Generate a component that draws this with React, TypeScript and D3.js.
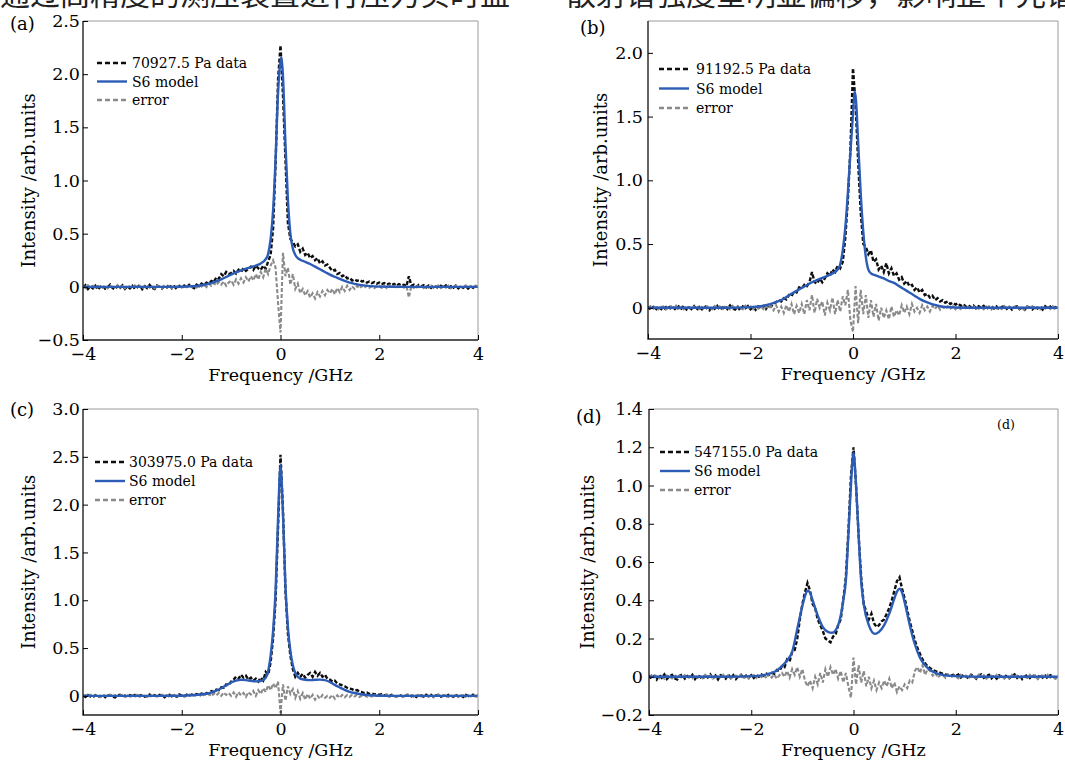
import React, { useEffect, useRef } from 'react';
import * as d3 from 'd3';

const W = 1065;
const H = 760;
const SERIF = '"DejaVu Serif", "Liberation Serif", serif';
const CJK = '"Noto Sans CJK SC", sans-serif';

// sampling grid of the measured spectra, GHz (step 0.05)
const freq = d3.range(161).map((i) => +(-4 + i * 0.05).toFixed(2));

const xTicks = [-4, -2, 0, 2, 4];
const yTicksA = [-0.5, 0, 0.5, 1, 1.5, 2, 2.5];
const yTicksB = [0, 0.5, 1, 1.5, 2];
const yTicksC = [0, 0.5, 1, 1.5, 2, 2.5, 3];
const yTicksD = [-0.2, 0, 0.2, 0.4, 0.6, 0.8, 1.0, 1.2, 1.4];

const pressures = ['70927.5', '91192.5', '303975.0', '547155.0'];

// ---- (a) 70927.5 Pa ----
const dataA = [
  -0.01, 0.015, -0.02, 0.005, -0.015, 0.01, -0.025, 0.0, 0.012, -0.018, -0.005, 0.02, -0.012, -0.022, 0.008, -0.01, 0.014, -0.02, 0.003, -0.015,
  0.01, -0.018, -0.004, 0.016, -0.022, 0.006, -0.012, 0.018, -0.008, -0.02, 0.012, 0.0, -0.016, 0.01, -0.006, 0.022, -0.014, 0.004, -0.02, 0.008,
  -0.01, 0.012, -0.004, 0.018, 0.0, -0.012, 0.02, 0.006, 0.03, 0.015, 0.04, 0.03, 0.055, 0.045, 0.09, 0.075, 0.12, 0.1, 0.14, 0.12,
  0.13, 0.15, 0.125, 0.16, 0.14, 0.175, 0.15, 0.17, 0.19, 0.16, 0.2, 0.175, 0.16, 0.2, 0.17, 0.24, 0.3, 0.55, 1.15, 1.95,
  2.27, 1.8, 1.2, 0.6, 0.45, 0.42, 0.38, 0.4, 0.33, 0.36, 0.3, 0.32, 0.27, 0.29, 0.25, 0.27, 0.22, 0.24, 0.2, 0.21,
  0.18, 0.15, 0.16, 0.12, 0.13, 0.1, 0.11, 0.08, 0.085, 0.06, 0.07, 0.055, 0.065, 0.05, 0.055, 0.04, 0.05, 0.035, 0.045, 0.03,
  0.04, 0.025, 0.035, 0.02, 0.03, 0.015, 0.028, 0.01, 0.025, 0.012, 0.02, 0.005, 0.1, 0.01, 0.02, 0.0, 0.018, 0.005, 0.015, -0.005,
  0.012, -0.01, 0.015, 0.0, -0.012, 0.01, -0.005, 0.014, -0.015, 0.006, -0.008, 0.012, -0.014, 0.004, -0.01, 0.01, -0.016, 0.006, -0.008, 0.01, -0.005,
];
const errorA = [
  0.005, -0.012, 0.015, -0.005, 0.01, -0.018, 0.008, 0.012, -0.01, 0.004, -0.015, 0.01, 0.0, -0.012, 0.016, -0.006, 0.008, -0.014, 0.012, 0.002,
  -0.01, 0.014, -0.006, 0.01, -0.016, 0.004, 0.012, -0.008, 0.006, -0.014, 0.01, 0.002, -0.012, 0.016, -0.004, 0.008, -0.012, 0.01, -0.002, 0.012,
  -0.008, 0.01, -0.004, 0.014, 0.0, 0.012, -0.006, 0.018, 0.004, 0.02, -0.002, 0.03, 0.01, 0.035, 0.015, 0.045, 0.02, 0.05, 0.01, 0.04,
  0.06, 0.02, 0.07, 0.03, 0.08, 0.04, 0.09, 0.05, 0.1, 0.06, 0.12, 0.07, 0.14, 0.09, 0.17, 0.12, 0.2, 0.25, 0.18, -0.15,
  -0.43, 0.32, 0.1, 0.18, 0.02, 0.12, -0.02, 0.03, -0.06, -0.02, -0.08, -0.04, -0.1, -0.06, -0.11, -0.05, -0.09, -0.04, -0.08, -0.03,
  -0.06, -0.02, -0.07, -0.01, -0.05, 0.0, -0.04, 0.01, -0.03, 0.005, -0.02, 0.01, -0.015, 0.008, -0.01, 0.012, -0.008, 0.006, -0.012, 0.004,
  0.01, -0.01, 0.008, -0.012, 0.014, -0.004, 0.01, -0.014, 0.006, 0.012, -0.008, 0.01, -0.1, 0.008, -0.01, 0.014, -0.004, 0.01, -0.012, 0.006,
  -0.008, 0.012, -0.01, 0.006, 0.014, -0.012, 0.004, -0.008, 0.012, -0.014, 0.006, 0.01, -0.01, 0.004, -0.012, 0.014, -0.006, 0.008, -0.01, 0.012, 0.0,
];
const modelA: [number, number][] = [
  [-4, 0], [-2.2, 0], [-1.8, 0.005], [-1.6, 0.015], [-1.4, 0.035], [-1.2, 0.07], [-1.0, 0.115], [-0.8, 0.155],
  [-0.6, 0.185], [-0.5, 0.2], [-0.4, 0.22], [-0.3, 0.26], [-0.25, 0.31], [-0.2, 0.45], [-0.15, 0.72], [-0.1, 1.2],
  [-0.05, 1.82], [0, 2.12], [0.02, 2.16], [0.05, 1.98], [0.1, 1.35], [0.15, 0.82], [0.2, 0.5], [0.25, 0.36],
  [0.3, 0.3], [0.35, 0.27], [0.4, 0.255], [0.5, 0.235], [0.6, 0.215], [0.7, 0.19], [0.8, 0.165], [0.9, 0.14],
  [1.0, 0.115], [1.1, 0.095], [1.2, 0.075], [1.3, 0.055], [1.4, 0.04], [1.5, 0.028], [1.6, 0.018], [1.8, 0.007],
  [2.0, 0.002], [2.5, 0], [4, 0],
];

// ---- (b) 91192.5 Pa ----
const dataB = [
  0.01, -0.015, 0.005, -0.02, 0.012, -0.008, -0.018, 0.006, 0.014, -0.012, 0.0, -0.02, 0.01, -0.006, 0.016, -0.014, 0.004, -0.01, 0.012, -0.018,
  0.006, -0.012, 0.016, -0.004, -0.02, 0.01, -0.008, 0.014, -0.016, 0.002, 0.012, -0.01, 0.018, -0.006, -0.014, 0.008, -0.02, 0.01, -0.004, 0.014,
  -0.012, 0.006, -0.016, 0.01, -0.006, 0.014, -0.01, 0.02, 0.008, 0.03, 0.045, 0.06, 0.05, 0.075, 0.065, 0.1, 0.09, 0.13, 0.12, 0.16,
  0.15, 0.18, 0.17, 0.2, 0.28, 0.2, 0.19, 0.23, 0.2, 0.23, 0.27, 0.25, 0.3, 0.28, 0.33, 0.31, 0.36, 0.55, 0.85, 1.25,
  1.88, 1.6, 1.15, 0.75, 0.5, 0.48, 0.42, 0.45, 0.36, 0.38, 0.3, 0.33, 0.28, 0.35, 0.27, 0.31, 0.25, 0.27, 0.22, 0.24,
  0.19, 0.21, 0.17, 0.18, 0.14, 0.16, 0.12, 0.14, 0.1, 0.11, 0.08, 0.095, 0.06, 0.075, 0.05, 0.06, 0.04, 0.05, 0.03, 0.04,
  0.025, 0.035, 0.015, 0.028, 0.01, 0.02, 0.005, 0.018, -0.005, 0.012, 0.0, 0.015, -0.01, 0.008, 0.012, -0.006, 0.01, -0.012, 0.006, 0.014,
  -0.008, 0.01, -0.014, 0.006, 0.012, -0.01, 0.004, -0.016, 0.01, 0.0, -0.012, 0.014, -0.006, 0.008, -0.014, 0.012, -0.004, 0.01, -0.012, 0.006, 0.0,
];
const errorB = [
  -0.008, 0.012, -0.004, 0.015, -0.012, 0.006, 0.01, -0.014, 0.004, 0.012, -0.01, 0.016, -0.006, 0.008, -0.012, 0.01, 0.002, -0.014, 0.008, 0.012,
  -0.01, 0.006, -0.014, 0.012, 0.004, -0.012, 0.014, -0.006, 0.01, -0.016, 0.008, 0.002, -0.012, 0.014, -0.008, 0.01, 0.004, -0.012, 0.016, -0.006,
  0.01, -0.012, 0.008, -0.006, 0.014, -0.01, 0.016, -0.008, 0.012, -0.02, 0.02, -0.03, 0.01, -0.04, 0.02, -0.03, 0.03, -0.05, 0.015, -0.04,
  0.03, -0.05, 0.06, -0.02, 0.1, -0.04, 0.07, 0.0, 0.05, -0.06, 0.04, -0.02, 0.08, -0.05, 0.06, -0.03, 0.09, 0.02, 0.14, -0.1,
  -0.19, 0.17, -0.12, 0.14, -0.05, 0.1, -0.08, 0.06, -0.07, 0.03, -0.1, 0.0, -0.08, -0.02, -0.09, 0.01, -0.07, -0.02, -0.06, 0.02,
  -0.04, 0.01, -0.05, 0.03, -0.03, 0.0, -0.04, 0.02, -0.02, 0.01, -0.03, 0.015, -0.01, 0.02, -0.015, 0.008, -0.01, 0.012, -0.006, 0.01,
  -0.012, 0.008, -0.01, 0.014, -0.004, 0.01, -0.014, 0.006, 0.012, -0.008, 0.004, -0.012, 0.01, 0.002, -0.014, 0.012, -0.006, 0.008, -0.01, 0.014,
  -0.004, 0.01, -0.012, 0.006, 0.014, -0.01, 0.002, -0.014, 0.01, -0.006, 0.012, -0.008, 0.004, -0.012, 0.014, -0.006, 0.008, -0.01, 0.012, -0.004, 0.0,
];
const modelB: [number, number][] = [
  [-4, 0], [-2.5, 0], [-2.0, 0.005], [-1.8, 0.012], [-1.6, 0.03], [-1.5, 0.045], [-1.4, 0.06], [-1.2, 0.11],
  [-1.0, 0.155], [-0.8, 0.2], [-0.6, 0.235], [-0.5, 0.25], [-0.4, 0.27], [-0.3, 0.3], [-0.25, 0.34], [-0.2, 0.45],
  [-0.15, 0.63], [-0.1, 0.9], [-0.05, 1.22], [0, 1.52], [0.03, 1.7], [0.06, 1.62], [0.1, 1.3], [0.15, 0.9],
  [0.2, 0.6], [0.25, 0.4], [0.3, 0.3], [0.35, 0.27], [0.4, 0.26], [0.5, 0.245], [0.6, 0.23], [0.7, 0.21],
  [0.8, 0.195], [0.9, 0.17], [1.0, 0.145], [1.1, 0.12], [1.2, 0.095], [1.3, 0.07], [1.4, 0.05], [1.5, 0.035],
  [1.6, 0.022], [1.7, 0.012], [1.8, 0.006], [2.0, 0.002], [2.5, 0], [4, 0],
];

// ---- (c) 303975.0 Pa ----
const dataC = [
  0.005, -0.012, 0.01, -0.006, -0.015, 0.008, 0.0, -0.01, 0.012, -0.014, 0.004, 0.01, -0.008, -0.016, 0.006, 0.012, -0.01, 0.002, -0.012, 0.008,
  -0.006, 0.01, -0.014, 0.004, 0.012, -0.008, -0.002, 0.014, -0.012, 0.006, -0.01, 0.01, 0.0, -0.014, 0.008, 0.012, -0.006, 0.004, -0.01, 0.014,
  0.002, -0.008, 0.012, 0.0, 0.014, 0.006, 0.018, 0.01, 0.025, 0.015, 0.03, 0.025, 0.05, 0.04, 0.065, 0.06, 0.09, 0.085, 0.12, 0.11,
  0.15, 0.17, 0.2, 0.18, 0.22, 0.19, 0.21, 0.17, 0.19, 0.16, 0.18, 0.15, 0.19, 0.16, 0.25, 0.22, 0.35, 0.6, 1.0, 1.75,
  2.52, 1.95, 1.1, 0.65, 0.42, 0.28, 0.2, 0.24, 0.2, 0.23, 0.19, 0.22, 0.24, 0.2, 0.25, 0.21, 0.24, 0.2, 0.22, 0.18,
  0.17, 0.15, 0.16, 0.13, 0.12, 0.11, 0.1, 0.085, 0.075, 0.07, 0.055, 0.06, 0.045, 0.04, 0.03, 0.035, 0.02, 0.025, 0.015, 0.02,
  0.01, 0.018, 0.004, 0.012, -0.004, 0.01, 0.002, -0.008, 0.012, 0.0, -0.01, 0.008, 0.014, -0.006, 0.006, -0.012, 0.01, 0.004, -0.008, 0.012,
  -0.004, 0.01, -0.012, 0.006, 0.012, -0.008, 0.002, -0.012, 0.01, 0.004, -0.01, 0.014, -0.006, 0.008, -0.012, 0.01, 0.0, -0.01, 0.012, -0.006, 0.004,
];
const errorC = [
  -0.006, 0.01, -0.004, 0.012, -0.01, 0.004, 0.008, -0.012, 0.006, 0.0, -0.01, 0.012, -0.004, 0.008, -0.012, 0.004, 0.01, -0.008, 0.002, -0.01,
  0.008, -0.004, 0.012, -0.01, 0.004, 0.008, -0.012, 0.006, 0.0, 0.01, -0.008, 0.004, 0.012, -0.006, 0.008, -0.012, 0.004, 0.01, -0.006, 0.002,
  0.008, -0.01, 0.004, 0.012, -0.006, 0.01, 0.0, 0.014, -0.008, 0.016, 0.004, 0.02, -0.004, 0.025, 0.005, 0.03, 0.0, 0.035, 0.01, 0.03,
  0.0, 0.035, -0.01, 0.04, 0.005, 0.03, -0.01, 0.04, 0.015, 0.05, 0.0, 0.06, 0.02, 0.08, 0.04, 0.11, 0.06, 0.13, 0.08, 0.15,
  -0.18, 0.12, -0.05, 0.1, 0.02, 0.07, -0.02, 0.05, -0.03, 0.03, -0.04, 0.02, -0.03, 0.01, -0.04, 0.0, -0.03, 0.01, -0.02, 0.0,
  -0.02, 0.01, -0.03, 0.005, -0.02, 0.01, -0.015, 0.008, -0.01, 0.012, -0.006, 0.01, -0.012, 0.004, 0.008, -0.01, 0.006, -0.008, 0.01, 0.0,
  -0.008, 0.01, -0.004, 0.012, -0.01, 0.004, 0.008, -0.012, 0.006, 0.0, -0.01, 0.012, -0.006, 0.008, -0.01, 0.004, 0.01, -0.008, 0.002, 0.01,
  -0.006, 0.008, -0.012, 0.004, 0.01, -0.008, 0.002, 0.012, -0.01, 0.006, -0.004, 0.01, -0.012, 0.006, 0.008, -0.01, 0.004, -0.006, 0.01, -0.008, 0.002,
];
const modelC: [number, number][] = [
  [-4, 0], [-2.5, 0], [-2.0, 0.002], [-1.8, 0.006], [-1.6, 0.014], [-1.5, 0.022], [-1.4, 0.035], [-1.3, 0.055],
  [-1.2, 0.08], [-1.1, 0.11], [-1.0, 0.14], [-0.9, 0.16], [-0.8, 0.168], [-0.7, 0.165], [-0.6, 0.158], [-0.5, 0.152],
  [-0.4, 0.155], [-0.3, 0.19], [-0.25, 0.26], [-0.2, 0.42], [-0.15, 0.68], [-0.1, 1.1], [-0.05, 1.85], [0, 2.41],
  [0.05, 1.9], [0.1, 1.15], [0.15, 0.72], [0.2, 0.47], [0.25, 0.32], [0.3, 0.24], [0.35, 0.2], [0.4, 0.18],
  [0.5, 0.168], [0.6, 0.165], [0.7, 0.168], [0.8, 0.17], [0.9, 0.165], [1.0, 0.145], [1.1, 0.115], [1.2, 0.088],
  [1.3, 0.062], [1.4, 0.042], [1.5, 0.03], [1.6, 0.02], [1.7, 0.012], [1.8, 0.007], [2.0, 0.002], [2.5, 0], [4, 0],
];

// ---- (d) 547155.0 Pa ----
const dataD = [
  0.008, -0.01, 0.004, -0.014, 0.01, -0.006, 0.012, -0.012, 0.002, 0.01, -0.008, -0.014, 0.006, 0.012, -0.01, 0.004, -0.006, 0.01, -0.012, 0.006,
  0.0, -0.012, 0.01, -0.004, 0.012, -0.01, 0.006, -0.014, 0.008, 0.002, -0.01, 0.012, -0.006, 0.008, -0.012, 0.004, 0.01, -0.008, 0.006, -0.004,
  0.008, -0.006, 0.01, 0.0, 0.012, 0.004, 0.016, 0.01, 0.02, 0.015, 0.035, 0.03, 0.055, 0.05, 0.09, 0.08, 0.13, 0.14, 0.2, 0.3,
  0.38, 0.44, 0.49, 0.45, 0.38, 0.36, 0.3, 0.27, 0.24, 0.2, 0.19, 0.18, 0.21, 0.22, 0.27, 0.3, 0.4, 0.52, 0.76, 1.05,
  1.2, 1.0, 0.74, 0.52, 0.38, 0.34, 0.3, 0.33, 0.28, 0.26, 0.27, 0.29, 0.3, 0.33, 0.36, 0.4, 0.45, 0.5, 0.52, 0.46,
  0.41, 0.35, 0.29, 0.24, 0.19, 0.15, 0.12, 0.09, 0.07, 0.055, 0.045, 0.035, 0.03, 0.025, 0.02, 0.015, 0.012, 0.01, 0.005, 0.01,
  0.005, 0.012, -0.004, 0.01, 0.002, -0.008, 0.01, 0.004, -0.01, 0.008, 0.012, -0.006, 0.004, 0.01, -0.008, 0.006, -0.01, 0.008, 0.0, -0.006,
  0.01, -0.008, 0.004, 0.012, -0.006, 0.008, -0.012, 0.002, 0.01, -0.006, 0.008, 0.0, -0.01, 0.012, -0.004, 0.006, -0.01, 0.008, 0.002, -0.008, 0.006,
];
const errorD = [
  -0.006, 0.008, -0.002, 0.01, -0.008, 0.004, -0.01, 0.006, 0.0, -0.008, 0.01, -0.004, 0.006, -0.01, 0.008, -0.002, 0.004, -0.008, 0.01, -0.006,
  0.004, -0.008, 0.01, -0.002, 0.006, -0.01, 0.008, 0.0, -0.006, 0.01, -0.004, 0.008, -0.01, 0.002, 0.006, -0.008, 0.01, -0.004, 0.006, -0.01,
  0.004, 0.008, -0.006, 0.012, -0.002, 0.01, -0.008, 0.014, -0.004, 0.012, -0.01, 0.008, 0.02, 0.0, 0.03, -0.005, 0.04, 0.01, 0.05, 0.0,
  0.04, -0.02, -0.05, -0.02, -0.06, 0.0, -0.04, 0.02, -0.03, 0.04, 0.0, 0.05, 0.01, 0.04, -0.01, 0.03, -0.03, 0.02, -0.05, -0.11,
  0.1, -0.04, 0.06, -0.03, 0.03, -0.05, 0.0, -0.06, -0.02, -0.07, -0.03, -0.06, -0.02, -0.05, -0.01, -0.06, -0.03, -0.08, -0.05, -0.07,
  -0.04, -0.06, -0.02, -0.03, 0.03, 0.05, 0.02, 0.06, 0.01, 0.04, 0.03, 0.005, 0.02, -0.005, 0.01, 0.008, -0.006, 0.01, -0.004, 0.006,
  0.002, -0.008, 0.01, -0.004, 0.006, -0.01, 0.008, 0.0, -0.006, 0.01, -0.004, 0.008, -0.01, 0.002, 0.006, -0.008, 0.01, -0.004, 0.006, -0.01,
  0.004, -0.008, 0.01, -0.002, 0.006, -0.01, 0.008, 0.0, -0.006, 0.01, -0.004, 0.008, -0.01, 0.002, 0.006, -0.008, 0.01, -0.004, 0.006, -0.01, 0.004,
];
const modelD: [number, number][] = [
  [-4, 0], [-2.5, 0], [-2.0, 0.003], [-1.8, 0.007], [-1.7, 0.012], [-1.6, 0.02], [-1.5, 0.033], [-1.4, 0.055],
  [-1.3, 0.085], [-1.2, 0.13], [-1.1, 0.25], [-1.0, 0.37], [-0.95, 0.42], [-0.9, 0.45], [-0.85, 0.44], [-0.8, 0.4],
  [-0.7, 0.32], [-0.6, 0.26], [-0.5, 0.235], [-0.42, 0.23], [-0.3, 0.27], [-0.25, 0.32], [-0.2, 0.4], [-0.15, 0.5],
  [-0.1, 0.74], [-0.05, 1.0], [0, 1.17], [0.05, 1.0], [0.1, 0.74], [0.15, 0.5], [0.2, 0.38], [0.3, 0.27],
  [0.42, 0.224], [0.5, 0.235], [0.6, 0.27], [0.7, 0.33], [0.8, 0.41], [0.85, 0.445], [0.9, 0.46], [0.95, 0.44],
  [1.0, 0.39], [1.1, 0.27], [1.2, 0.17], [1.3, 0.1], [1.4, 0.06], [1.5, 0.035], [1.6, 0.02], [1.7, 0.012],
  [1.8, 0.007], [2.0, 0.003], [2.5, 0], [4, 0],
];

// panel layout (pixel boxes of the four plot areas)
const panels = [
  { id: 'a', box: [83, 478, 21, 340], yDomain: [-0.5, 2.5], yTicks: yTicksA, data: dataA, error: errorA, model: modelA,
    pressure: pressures[0], tag: [10, 30], yTitleX: 35, tickGap: 3, legend: [14, 42, 18.5, 49] },
  { id: 'b', box: [648, 1058, 21, 339], yDomain: [-0.245, 2.25], yTicks: yTicksB, data: dataB, error: errorB, model: modelB,
    pressure: pressures[1], tag: [580, 34], yTitleX: 607, tickGap: 5, legend: [11, 48, 19.5, 48] },
  { id: 'c', box: [83, 478, 409, 715], yDomain: [-0.2, 3.0], yTicks: yTicksC, data: dataC, error: errorC, model: modelC,
    pressure: pressures[2], tag: [10, 416], yTitleX: 35, tickGap: 3, legend: [12, 53, 19, 46] },
  { id: 'd', box: [649, 1058, 409, 715], yDomain: [-0.2, 1.4], yTicks: yTicksD, data: dataD, error: errorD, model: modelD,
    pressure: pressures[3], tag: [576, 423], yTitleX: 594, tickGap: 6, legend: [11, 43, 19, 45] },
];

const BLUE = '#2c5cb5';
const BLACK = '#0d0d0d';
const GREY = '#8a8a8a';
const INK = '#000';

const minus = (s: string) => s.replace('-', '\u2212');
const fmtY = (v: number) => (v === 0 ? '0' : minus(v.toFixed(1)));
const fmtX = (v: number) => minus(String(v));

export default function App() {
  const ref = useRef<SVGSVGElement>(null);

  useEffect(() => {
    const svg = d3.select(ref.current);
    svg.selectAll('*').remove();

    svg.append('rect').attr('width', W).attr('height', H).attr('fill', '#fff');

    // caption lines of the page above, mostly cut off
    svg.append('text').attr('x', 0).attr('y', 5).attr('font-family', CJK).attr('font-size', 30)
      .attr('fill', '#222').text('通过高精度的测压装置进行压力实时监');
    svg.append('text').attr('x', 566).attr('y', 5).attr('font-family', CJK).attr('font-size', 30)
      .attr('fill', '#222').text('散射谱强度呈明显偏移，影响整个光谱的');

    panels.forEach((p) => {
      const [left, right, top, bottom] = p.box;
      const x = d3.scaleLinear().domain([-4, 4]).range([left, right]);
      const y = d3.scaleLinear().domain(p.yDomain).range([bottom, top]);
      const g = svg.append('g');

      const clipId = `clip-${p.id}`;
      g.append('clipPath').attr('id', clipId).append('rect')
        .attr('x', left).attr('y', top).attr('width', right - left).attr('height', bottom - top);
      const plot = g.append('g').attr('clip-path', `url(#${clipId})`);

      const sampled = d3.line<number>().x((_, i) => x(freq[i])).y((d) => y(d));
      const smooth = d3.line<[number, number]>().x((d) => x(d[0])).y((d) => y(d[1])).curve(d3.curveMonotoneX);

      plot.append('path').datum(p.data).attr('d', sampled).attr('fill', 'none')
        .attr('stroke', BLACK).attr('stroke-width', 2.4).attr('stroke-dasharray', '4,2');
      plot.append('path').datum(p.error).attr('d', sampled).attr('fill', 'none')
        .attr('stroke', GREY).attr('stroke-width', 2.1).attr('stroke-dasharray', '4,2');
      plot.append('path').datum(p.model).attr('d', smooth).attr('fill', 'none')
        .attr('stroke', BLUE).attr('stroke-width', 2.4);

      // frame: light top/right, dark left/bottom
      g.append('path').attr('d', `M${left},${top}H${right}V${bottom}`).attr('fill', 'none')
        .attr('stroke', '#9a9a9a').attr('stroke-width', 1);
      g.append('path').attr('d', `M${left},${top}V${bottom}H${right}`).attr('fill', 'none')
        .attr('stroke', '#222').attr('stroke-width', 1.4);

      g.append('g').attr('transform', `translate(${left},0)`)
        .call(d3.axisLeft(y).tickValues(p.yTicks).tickSize(-5).tickPadding(p.tickGap).tickFormat(fmtY as any))
        .call((a) => a.select('.domain').remove())
        .attr('font-family', SERIF).attr('font-size', 17.5).attr('color', INK);

      g.append('g').attr('transform', `translate(0,${bottom})`)
        .call(d3.axisBottom(x).tickValues(xTicks).tickSize(-5).tickPadding(8).tickFormat(fmtX as any))
        .call((a) => a.select('.domain').remove())
        .attr('font-family', SERIF).attr('font-size', 17.5).attr('color', INK);

      // axis titles
      g.append('text').attr('x', (left + right) / 2).attr('y', bottom + 41)
        .attr('text-anchor', 'middle').attr('font-family', SERIF).attr('font-size', 17.5).attr('fill', INK)
        .text('Frequency /GHz');
      g.append('text').attr('transform', `translate(${p.yTitleX},${(top + bottom) / 2}) rotate(-90)`)
        .attr('text-anchor', 'middle').attr('font-family', SERIF).attr('font-size', 18).attr('fill', INK)
        .text('Intensity /arb.units');

      // panel tag
      g.append('text').attr('x', p.tag[0]).attr('y', p.tag[1]).attr('font-family', SERIF)
        .attr('font-size', 18).attr('fill', INK).text(`(${p.id})`);

      // legend
      const [ldx, ldy, lstep, ltx] = p.legend;
      const entries = [
        { name: `${p.pressure} Pa data`, color: BLACK, dash: '5,3' },
        { name: 'S6 model', color: BLUE, dash: null },
        { name: 'error', color: GREY, dash: '5,3' },
      ];
      entries.forEach((e, i) => {
        const ly = top + ldy + i * lstep;
        g.append('line').attr('x1', left + ldx).attr('x2', left + ldx + 30).attr('y1', ly).attr('y2', ly)
          .attr('stroke', e.color).attr('stroke-width', e.dash ? 2.3 : 2.4)
          .attr('stroke-dasharray', e.dash);
        g.append('text').attr('x', left + ltx).attr('y', ly + 5).attr('font-family', SERIF)
          .attr('font-size', 14).attr('fill', INK).text(e.name);
      });

      if (p.id === 'd') {
        g.append('text').attr('x', 997).attr('y', 429).attr('font-family', SERIF)
          .attr('font-size', 12.5).attr('fill', INK).text('(d)');
      }
    });
  }, []);

  return (
    <svg
      ref={ref}
      width={W}
      height={H}
      viewBox={`0 0 ${W} ${H}`}
      style={{ position: 'absolute', left: 0, top: 0, display: 'block' }}
    />
  );
}
